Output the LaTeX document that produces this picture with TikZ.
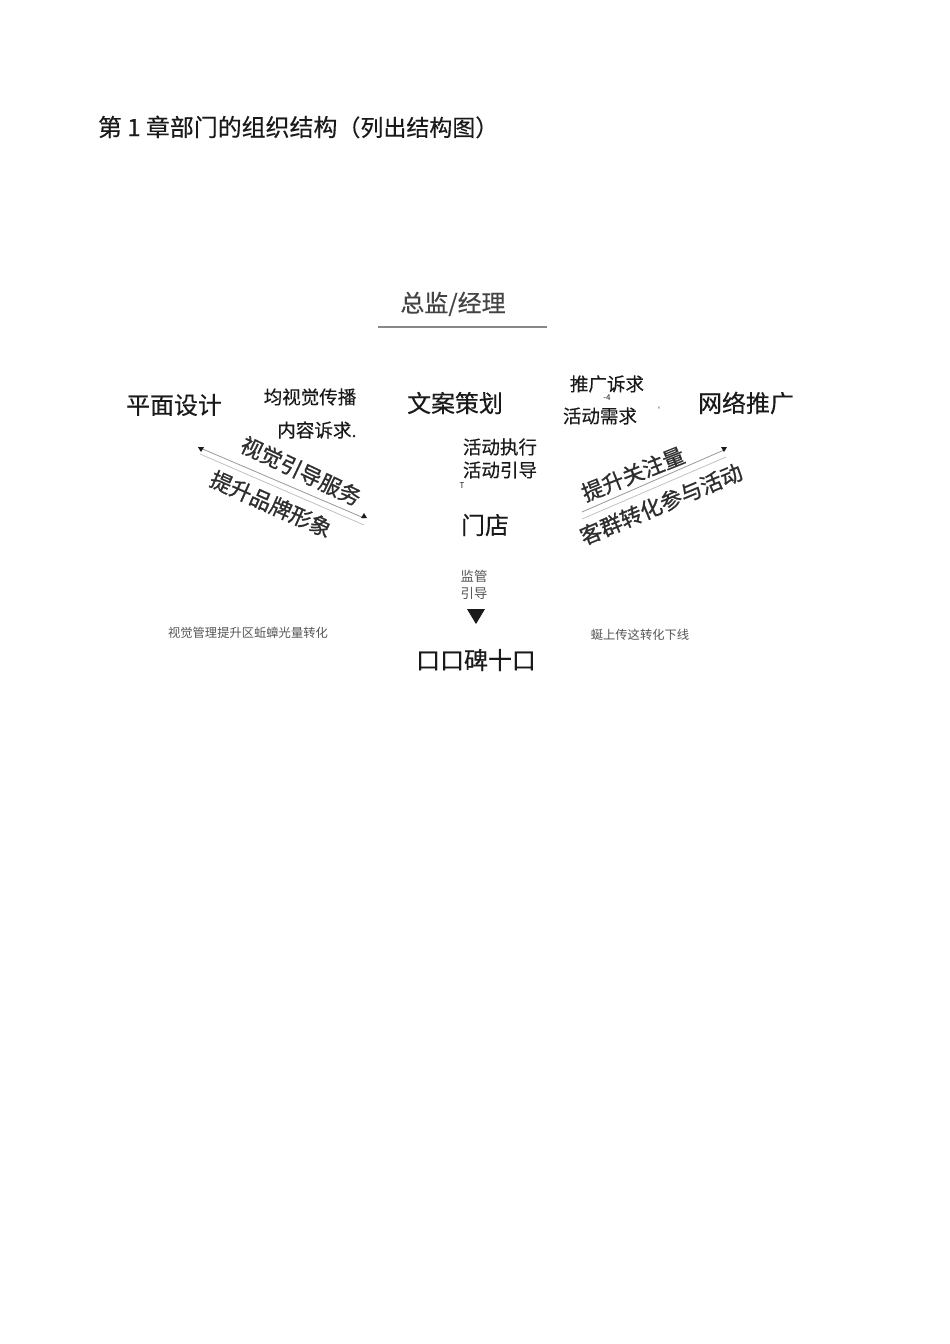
\documentclass[tikz,border=0pt]{standalone}
\usepackage{fontspec}
\setmainfont{Noto Sans CJK SC}[FakeBold=0.35]
\newfontfamily\lightcjk{Noto Sans CJK SC}
\newfontfamily\heavycjk{Noto Sans CJK SC}[FakeBold=0.9]
\usetikzlibrary{calc}
\definecolor{txt}{HTML}{1A1A1A}
\definecolor{soft}{HTML}{555555}
\definecolor{rule}{HTML}{999999}
\definecolor{rot}{HTML}{2E2E2E}
\begin{document}
\begin{tikzpicture}[x=0.6266pt,y=-0.6266pt,
  every node/.style={inner sep=0pt,outer sep=0pt,text=txt},
  big/.style={font=\fontsize{15}{15}\selectfont},
  mid/.style={font=\fontsize{11.6}{11.6}\selectfont},
  small/.style={font=\lightcjk\fontsize{8.4}{8.4}\selectfont,text=soft},
  tiny/.style={font=\lightcjk\fontsize{7.7}{7.7}\selectfont,text=soft},
  speck/.style={font=\lightcjk\fontsize{5}{5}\selectfont},
  slant/.style={font=\heavycjk\fontsize{13.6}{13.6}\selectfont,text=rot},
  thinline/.style={draw=rule,line width=0.5pt},
  tip/.style={fill=txt,draw=none}]
\fill[white] (0,0) rectangle (950,1344);
\useasboundingbox (0,0) rectangle (950,1344);

% title
\node[anchor=west,big] (title) at (98,127) {第 1 章部门的组织结构{\fontsize{14.4}{14.4}\selectfont（列出结构图）}};

% head
\node[big,text=soft!80!black] (head) at (453,304) {总监/经理};
\coordinate (hl) at (378,327);
\coordinate (hr) at (547,327);
\draw[draw=soft!70,line width=0.8pt] (hl) -- (hr);

% departments
\node[big] (design) at (174,405) {平面设计};
\node[big] (copy) at (455,403) {文案策划};
\node[big] (net) at (746,403) {网络推广};
\node[big] (store) at (485,525) {门店};
\node[big] (rep) at (476,660) {口口碑十口};

% annotations
\node[mid] (a1) at (310,397) {均视觉传播};
\node[mid] (a2) at (317,430) {内容诉求.};
\node[mid] (b1) at (607,384) {推广诉求};
\node[speck] (b0) at (607,398) {-4};
\node[mid] (b2) at (600,416) {活动需求};
\node[speck] (b3) at (656,410) {‘};
\node[mid] (c1) at (500,447) {活动执行};
\node[mid] (c2) at (500,470) {活动引导};
\node[speck] (c0) at (462,486) {T};
\node[small] (d1) at (474,576) {监管};
\node[small] (d2) at (474,593) {引导};
\node[tiny] (e1) at (248,633) {视觉管理提升区蚯蟑光量转化};
\node[tiny] (e2) at (640,635) {蜒上传这转化下线};

% arrow head below 引导
\coordinate (t1) at (467,609);
\coordinate (t2) at (485,609);
\coordinate (t3) at (476,624);
\fill[txt] (t1) -- (t2) -- (t3) -- cycle;

% left slanted band
\coordinate (la) at (198,447);
\coordinate (lb) at (364,518);
\coordinate (lc) at (200,454);
\coordinate (ld) at (364,525);
\draw[thinline] (la) -- (lb);
\draw[thinline,draw=rule!60] (lc) -- (ld);
\fill[tip] ($(la)+(0,0)$) -- ++(6,0) -- ++(-3,5) -- cycle;
\fill[tip] ($(lb)+(-3,0)$) -- ++(6,0) -- ++(-3,-5) -- cycle;
\node[slant,rotate=-25.4] (l1) at (301,471) {视觉引导服务};
\node[slant,rotate=-24] (l2) at (271,504) {提升品牌形象};

% right slanted band
\coordinate (ra) at (582,512);
\coordinate (rb) at (724,450);
\coordinate (rc) at (582,519);
\coordinate (rd) at (726,457);
\draw[thinline] (ra) -- (rb);
\draw[thinline,draw=rule!60] (rc) -- (rd);
\fill[tip] ($(rb)+(-3,-3)$) -- ++(6,0) -- ++(-3,5) -- cycle;
\node[slant,rotate=21.8] (r1) at (633,474) {提升关注量};
\node[slant,rotate=22.8] (r2) at (661,504) {客群转化参与活动};
\end{tikzpicture}
\end{document}
